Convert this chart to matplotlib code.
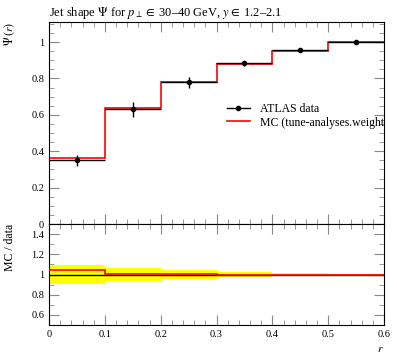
import matplotlib
matplotlib.use("Agg")
import matplotlib.pyplot as plt
import numpy as np
from matplotlib.ticker import MultipleLocator, FixedLocator
from matplotlib.lines import Line2D

plt.rcParams['font.family'] = ['Liberation Serif', 'DejaVu Serif']
plt.rcParams['mathtext.fontset'] = 'stix'

bin_edges = [0.0, 0.1, 0.2, 0.3, 0.4, 0.5, 0.6]
data_vals = [0.350, 0.630, 0.780, 0.882, 0.955, 0.998]
data_errs = [0.030, 0.040, 0.030, 0.015, 0.008, 0.004]
mc_vals = [0.364, 0.635, 0.783, 0.880, 0.953, 0.998]
ratio_band_lo = [0.91, 0.935, 0.955, 0.972, 0.988, 0.996]
ratio_band_hi = [1.09, 1.065, 1.045, 1.028, 1.012, 1.004]
x_ticks = [0.0, 0.1, 0.2, 0.3, 0.4, 0.5, 0.6]
x_tick_labels = ['0', '0.1', '0.2', '0.3', '0.4', '0.5', '0.6']
main_y_ticks = [0, 0.2, 0.4, 0.6, 0.8, 1.0]
main_y_labels = ['0', '0.2', '0.4', '0.6', '0.8', '1']
ratio_y_ticks = [0.6, 0.8, 1.0, 1.2, 1.4]
ratio_y_labels = ['0.6', '0.8', '1', '1.2', '1.4']

W, H = 397, 358
fig = plt.figure(figsize=(W / 100, H / 100), dpi=100)

def pax(x0, y0, x1, y1):
    return fig.add_axes([x0 / W, 1 - y1 / H, (x1 - x0) / W, (y1 - y0) / H])

ax = pax(49, 22, 384, 224)
rax = pax(49, 224, 384, 325)

edges = np.array(bin_edges)
centers = 0.5 * (edges[:-1] + edges[1:])
halfw = 0.5 * np.diff(edges)
dv = np.array(data_vals)
de = np.array(data_errs)
mv = np.array(mc_vals)

# main plot
ax.errorbar(centers, dv, xerr=halfw, yerr=de, fmt='o', color='black',
            ms=3, elinewidth=1.0, capsize=0, zorder=3)
ax.stairs(mv, edges, color='red', lw=1.2, baseline=None, zorder=2)
ax.set_xlim(0, 0.6)
ax.set_ylim(0, 1.11)

# ratio plot
ratio = mv / dv
ones = np.ones_like(dv)
rax.stairs(ratio_band_hi, edges, baseline=ratio_band_lo, fill=True,
           color='#ffff00', lw=0, zorder=1)
rax.stairs(ones, edges, color='black', lw=1.0, baseline=None, zorder=2)
rax.stairs(ratio, edges, color='red', lw=1.2, baseline=None, zorder=3)
rax.set_xlim(0, 0.6)
rax.set_ylim(0.5, 1.5)

for a in (ax, rax):
    a.tick_params(which='both', direction='in', top=True, right=True,
                  labelsize=7.5, color='#888888')
    a.tick_params(which='major', length=7)
    a.tick_params(which='minor', length=3.5)
    a.xaxis.set_major_locator(FixedLocator(x_ticks))
    a.xaxis.set_minor_locator(MultipleLocator(0.02))
    for s in a.spines.values():
        s.set_linewidth(0.8)

ax.yaxis.set_major_locator(FixedLocator(main_y_ticks))
ax.yaxis.set_minor_locator(MultipleLocator(0.05))
ax.set_yticklabels(main_y_labels)
ax.tick_params(axis='x', labelbottom=False)

rax.yaxis.set_major_locator(FixedLocator(ratio_y_ticks))
rax.yaxis.set_minor_locator(MultipleLocator(0.1))
rax.set_yticklabels(ratio_y_labels)
rax.set_xticklabels(x_tick_labels)

fig.text(49 / W, 1 - 13 / H,
         r'Jet shape $\Psi$ for $p_\perp \in$ 30–40 GeV, $y \in$ 1.2–2.1',
         fontsize=9, ha='left', va='center')
fig.text(10 / W, 1 - 22 / H, r'$\Psi\,(r)$', rotation=90, fontsize=8.5,
         ha='center', va='top')
fig.text(10 / W, 1 - 224 / H, 'MC / data', rotation=90, fontsize=8.5,
         ha='center', va='top')
fig.text(384 / W, 1 - 349 / H, r'$r$', fontsize=8.5, ha='right', va='center')

h_data = Line2D([], [], color='black', marker='o', ms=3, lw=1.0)
h_mc = Line2D([], [], color='red', lw=1.2)
ax.legend([h_data, h_mc], ['ATLAS data', 'MC (tune-analyses.weight'],
          loc='upper left', bbox_to_anchor=(0.53, 0.60), frameon=False,
          fontsize=8.5, handlelength=2.0, handletextpad=0.8, labelspacing=0.15,
          borderaxespad=0, borderpad=0)

fig.savefig('out.png', dpi=100)
